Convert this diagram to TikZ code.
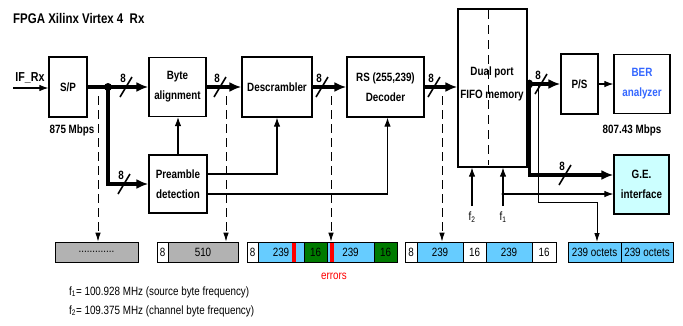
\documentclass[tikz,border=0pt]{standalone}
\usepackage{fontspec}
\setmainfont{Liberation Sans}[FakeStretch=0.82]
\usetikzlibrary{arrows.meta,calc}
\definecolor{cellblue}{HTML}{66CCFF}
\definecolor{cellgray}{HTML}{B2B2B2}
\definecolor{cellgreen}{HTML}{007A00}
\definecolor{gefill}{HTML}{CCFFFF}
\definecolor{berblue}{HTML}{3366FF}
\definecolor{errred}{HTML}{FF0000}
\begin{document}
\begin{tikzpicture}[x=1pt,y=-1pt,
 box/.style={draw, line width=1.2pt, inner sep=0pt, align=center, font=\bfseries\fontsize{12}{20}\selectfont},
 lbl/.style={inner sep=0pt, font=\bfseries\fontsize{12}{14}\selectfont},
 txt/.style={inner sep=0pt, font=\fontsize{12}{14}\selectfont},
 bus/.style={line width=3.2pt},
 busarrow/.style={bus, -{Latex[length=12pt,width=10pt]}},
 thinline/.style={line width=1.1pt},
 thinarrow/.style={thinline, -{Latex[length=9pt,width=6.5pt]}},
 tap/.style={line width=0.9pt, dash pattern=on 9pt off 5pt, -{Latex[length=9pt,width=5.5pt]}},
 cell/.style={draw, line width=0.7pt, minimum height=20pt, inner sep=0pt, font=\fontsize{12}{12}\selectfont},
 busmark/.pic={\draw[line width=1.6pt] (-6,10) -- (6,-10); \node[lbl] (-n) at (-3,-9) {8};}
]
\useasboundingbox (0,0) rectangle (683,325);

% title
\node[inner sep=0pt, anchor=west, font=\bfseries\fontsize{14}{16}\selectfont] (title) at (13,18) {FPGA Xilinx Virtex 4~~Rx};

% blocks
\node[box, minimum width=38pt, minimum height=60pt] (sp) at (68,87) {S/P};
\node[box, minimum width=57pt, minimum height=59pt] (ba) at (177.5,87) {Byte\\alignment};
\node[box, minimum width=70pt, minimum height=60pt] (ds) at (277,87) {Descrambler};
\node[box, minimum width=77pt, minimum height=60pt] (rs) at (385.5,87) {RS (255,239)\\Decoder};
\node[box, minimum width=69pt, minimum height=158pt] (fifo) at (492.5,88) {};
\node[box, minimum width=37pt, minimum height=60pt] (ps) at (579.5,84) {P/S};
\node[box, minimum width=56pt, minimum height=59pt, text=berblue] (ber) at (642,84) {BER\\analyzer};
\node[box, minimum width=58pt, minimum height=58pt] (pre) at (178,184) {Preamble\\detection};
\node[box, minimum width=55pt, minimum height=59pt, fill=gefill] (ge) at (641.5,184.5) {G.E.\\interface};

\draw[line width=0.9pt, dash pattern=on 9pt off 6pt] (488,10) -- (488,165);
\node[box, draw=none, font=\bfseries\fontsize{12}{23}\selectfont] (fifotext) at (492,84) {Dual port\\FIFO memory};

% labels
\node[lbl, font=\bfseries\fontsize{13}{14}\selectfont] (ifrx) at (30,78) {IF\_Rx};
\node[lbl] (rate1) at (72,130) {875 Mbps};
\node[lbl] (rate2) at (632,130) {807.43 Mbps};

% input
\coordinate (ifin) at (13,88);
\draw[thinarrow] (ifin) -- (ifin -| sp.west);

% main bus
\coordinate (dot1) at (108,87);
\draw[bus] (sp.east) -- (dot1);
\draw[busarrow] (dot1) -- (ba.west);
\pic at (126,87) {busmark};
\draw[busarrow] (dot1) |- (pre.west);
\pic at (124,184) {busmark};
\fill (dot1) circle (4pt);
\draw[busarrow] (ba.east) -- (ds.west);
\pic at (220,87) {busmark};
\draw[busarrow] (ds.east) -- (rs.west);
\pic at (322,87) {busmark};
\draw[busarrow] (rs.east) -- (rs.east -| fifo.west);
\pic at (434,87) {busmark};

% control from preamble
\draw[thinarrow] (pre.north) -- (pre.north |- ba.south);
\draw[thinarrow] ([yshift=10pt]pre.east) -| (ds.south);
\draw[thinarrow] ([yshift=-10pt]pre.east) -| ([xshift=2pt]rs.south);

% FIFO output
\coordinate (dot2) at (529.5,84);
\draw[busarrow] (ps.west -| fifo.east) -- (ps.west);
\pic at (541,84) {busmark};
\draw[busarrow] (dot2) |- ([yshift=9.5pt]ge.west);
\pic at (565,175) {busmark};
\fill (dot2) ellipse (3.5pt and 4.5pt);
\draw[thinarrow] (ps.east) -- (ps.east -| ber.west);
\coordinate (tapo) at (538,84);
\coordinate (tapc) at (538,202);
\draw[line width=0.9pt, -{Latex[length=9pt,width=5.5pt]}] (tapo) -- (tapc) -| (597,242);

% clocks
\coordinate (f2in) at (472,206);
\coordinate (f1in) at (503,206);
\coordinate (f1dot) at (503,194);
\draw[thinarrow] (f2in) -- (f2in |- fifo.south);
\draw[thinarrow] (f1in) -- (f1in |- fifo.south);
\draw[thinarrow] (f1dot) -- (f1dot -| ge.west);
\fill (f1dot) circle (1.6pt);
\node[txt] (f2lbl) at (472,217) {f\textsubscript{2}};
\node[txt] (f1lbl) at (503,217) {f\textsubscript{1}};

% bottom frames
\node[cell, fill=cellgray, minimum width=83pt] (dots) at (96.5,252) {.............};
\node[cell, fill=white, minimum width=11pt] (a8) at (162.5,252) {8};
\node[cell, fill=cellgray, minimum width=70pt] (a510) at (203,252) {510};

\node[cell, fill=white, minimum width=11pt] (b8) at (252.5,252) {8};
\node[cell, fill=cellblue, minimum width=46pt] (b239a) at (281,252) {239};
\node[cell, fill=cellgreen, minimum width=23pt] (b16a) at (315.5,252) {16};
\node[cell, fill=cellblue, minimum width=47pt] (b239b) at (350.5,252) {239};
\node[cell, fill=cellgreen, minimum width=23pt] (b16b) at (385.5,252) {16};
\fill[errred] (292,242.5) rectangle (295.5,261.5);
\fill[errred] (330,242.5) rectangle (333.5,261.5);
\node[txt, text=errred] (errlbl) at (334,276) {errors};

\node[cell, fill=white, minimum width=12pt] (c8) at (411,252) {8};
\node[cell, fill=cellblue, minimum width=46pt] (c239a) at (440,252) {239};
\node[cell, fill=white, minimum width=23pt] (c16a) at (474.5,252) {16};
\node[cell, fill=cellblue, minimum width=46pt] (c239b) at (509,252) {239};
\node[cell, fill=white, minimum width=24pt] (c16b) at (544,252) {16};

\node[cell, fill=cellblue, minimum width=53pt] (g1) at (594.5,252) {239 octets};
\node[cell, fill=cellblue, minimum width=52pt] (g2) at (647,252) {239 octets};

% monitoring taps
\coordinate (d1) at (98,96);
\coordinate (d2) at (226,96);
\coordinate (d3) at (331,96);
\coordinate (d4) at (442,96);
\draw[tap] (d1) -- (d1 |- dots.north);
\draw[tap] (d2) -- (d2 |- a510.north);
\draw[tap] (d3) -- (d3 |- b239b.north);
\draw[tap] (d4) -- (d4 |- c239a.north);

% frequency notes
\node[txt, anchor=west] (note1) at (69,292) {f\textsubscript{1}= 100.928 MHz (source byte frequency)};
\node[txt, anchor=west] (note2) at (69,311) {f\textsubscript{2}= 109.375 MHz (channel byte frequency)};
\end{tikzpicture}
\end{document}
